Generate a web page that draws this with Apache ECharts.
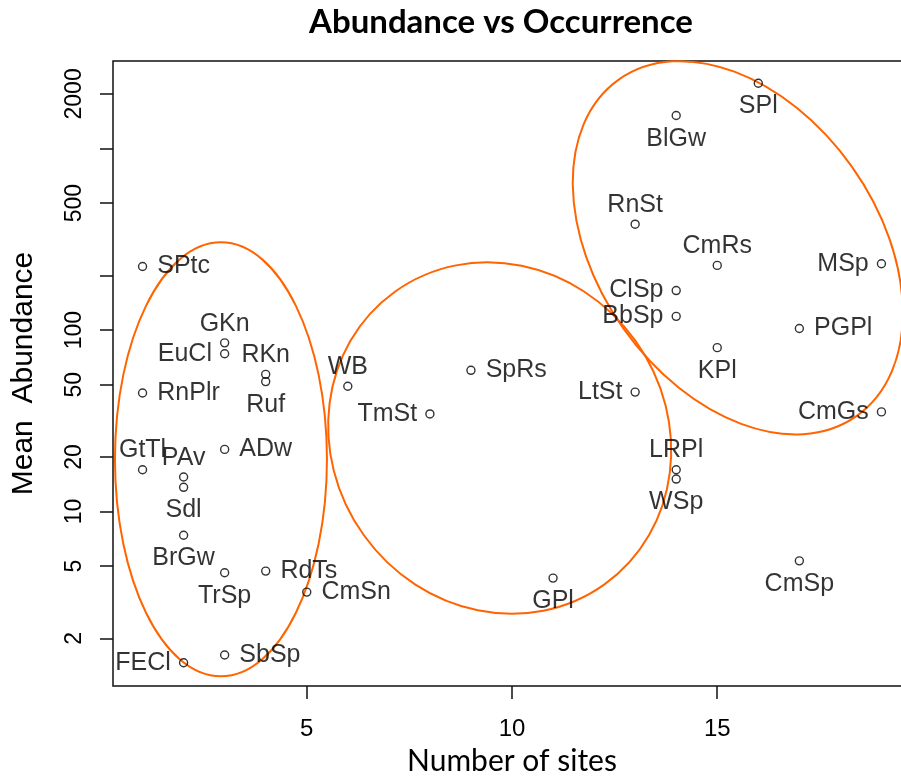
<!DOCTYPE html>
<html>
<head>
<meta charset="utf-8">
<script src="https://cdn.jsdelivr.net/npm/echarts@6/dist/echarts.min.js"></script>
<style>
  html, body { margin: 0; padding: 0; background: #fff; }
  #chart { width: 901px; height: 776px; }
</style>
</head>
<body>
<div id="chart"></div>
<script>
// Species codes, number of sites where each occurs, and mean abundance
const species = [
  'SPtc', 'GKn', 'EuCl', 'RKn', 'Ruf', 'RnPlr', 'ADw', 'GtTl', 'PAv', 'Sdl',
  'BrGw', 'TrSp', 'RdTs', 'CmSn', 'SbSp', 'FECl',
  'WB', 'SpRs', 'TmSt', 'LtSt', 'GPl',
  'ClSp', 'BbSp', 'LRPl', 'WSp', 'CmRs', 'MSp', 'PGPl', 'KPl', 'CmGs',
  'SPl', 'BlGw', 'RnSt', 'CmSp'
];
const sites = [
  1, 3, 3, 4, 4, 1, 3, 1, 2, 2,
  2, 3, 4, 5, 3, 2,
  6, 9, 8, 13, 11,
  14, 14, 14, 14, 15, 19, 17, 15, 19,
  16, 14, 13, 17
];
const meanAbundance = [
  224, 85, 74, 57, 52, 45, 22, 17, 15.5, 13.6,
  7.4, 4.6, 4.7, 3.6, 1.62, 1.47,
  49, 60, 34.5, 45.5, 4.3,
  165, 119, 17, 15.1, 227, 232, 102, 80, 35.4,
  2290, 1520, 383, 5.35
];

// Axis ticks
const xTicks = [5, 10, 15];
const yTicks = [2, 5, 10, 20, 50, 100, 200, 500, 1000, 2000];
const yTickLabels = [2, 5, 10, 20, 50, 100, 500, 2000];

// Which side of its point each species code is written on
const labelSide = {
  SPtc: 'right', GKn: 'top', EuCl: 'left', RKn: 'top', Ruf: 'bottom', RnPlr: 'right',
  ADw: 'right', GtTl: 'top', PAv: 'top', Sdl: 'bottom', BrGw: 'bottom', TrSp: 'bottom',
  RdTs: 'right', CmSn: 'right', SbSp: 'right', FECl: 'left',
  WB: 'top', SpRs: 'right', TmSt: 'left', LtSt: 'left', GPl: 'bottom',
  ClSp: 'left', BbSp: 'left', LRPl: 'top', WSp: 'bottom', CmRs: 'top', MSp: 'left',
  PGPl: 'right', KPl: 'bottom', CmGs: 'left', SPl: 'bottom', BlGw: 'bottom',
  RnSt: 'top', CmSp: 'bottom'
};
const sideGap = { top: 2, bottom: 6, left: 8, right: 10 };

// Group outlines: centre (sites, abundance)
const groupSites = [2.91, 9.70, 15.50];
const groupAbundance = [19.4, 25.4, 284];
// outline size in px and tilt (degrees, clockwise)
const groupOutline = [
  { rx: 106, ry: 217, tilt: 0 },
  { rx: 180, ry: 167, tilt: 54.4 },
  { rx: 206, ry: 140, tilt: 54.7 }
];

const labelFont = '"Liberation Sans", Arial, Helvetica, sans-serif';

const points = species.map((name, i) => ({
  name: name,
  value: [sites[i], meanAbundance[i]],
  label: { position: labelSide[name], distance: sideGap[labelSide[name]] }
}));

const chart = echarts.init(document.getElementById('chart'), null, { renderer: 'canvas' });

chart.setOption({
  animation: false,
  backgroundColor: '#fff',
  graphic: [{
    type: 'text',
    x: 501,
    y: 6,
    style: {
      text: 'Abundance vs Occurrence',
      font: 'bold 33px Lato, "Open Sans", sans-serif',
      fill: '#000',
      align: 'center',
      verticalAlign: 'top'
    }
  }],
  grid: {
    left: 113,
    top: 61,
    width: 798,          // frame continues past the right edge
    height: 625,
    outerBoundsMode: 'none',
    show: true,
    borderColor: '#111',
    borderWidth: 1.5,
    containLabel: false
  },
  xAxis: {
    type: 'value',
    min: 0.28,
    max: 19.72,
    name: 'Number of sites',
    nameLocation: 'middle',
    nameGap: 59,
    nameTextStyle: { fontFamily: 'Lato, "Open Sans", sans-serif', fontSize: 30, color: '#000' },
    axisLine: { show: false },
    splitLine: { show: false },
    axisTick: {
      show: true, length: 13, customValues: xTicks,
      lineStyle: { color: '#111', width: 1.5 }
    },
    axisLabel: {
      customValues: xTicks, margin: 31,
      fontFamily: labelFont, fontSize: 24, color: '#000'
    }
  },
  yAxis: {
    type: 'log',
    logBase: 10,
    min: 1.094,
    max: 3035,
    name: 'Mean  Abundance',
    nameLocation: 'middle',
    nameGap: 74,
    nameRotate: 90,
    nameTextStyle: { fontFamily: labelFont, fontSize: 30, color: '#000' },
    axisLine: { show: false },
    splitLine: { show: false },
    axisTick: {
      show: true, length: 13, customValues: yTicks,
      lineStyle: { color: '#111', width: 1.5 }
    },
    axisLabel: {
      customValues: yTickLabels, rotate: 90, margin: 27,
      fontFamily: labelFont, fontSize: 23, color: '#000',
      formatter: v => String(Math.round(v))
    }
  },
  series: [
    {
      type: 'custom',
      silent: true,
      clip: false,
      data: groupSites.map((s, i) => [s, groupAbundance[i]]),
      renderItem: function (params, api) {
        const c = api.coord([api.value(0), api.value(1)]);
        const o = groupOutline[params.dataIndex];
        return {
          type: 'ellipse',
          x: c[0],
          y: c[1],
          rotation: -o.tilt * Math.PI / 180,
          shape: { cx: 0, cy: 0, rx: o.rx, ry: o.ry },
          style: { fill: 'none', stroke: '#ff6400', lineWidth: 2 }
        };
      },
      z: 1
    },
    {
      type: 'scatter',
      symbol: 'circle',
      symbolSize: 8,
      data: points,
      itemStyle: { color: 'rgba(0,0,0,0)', borderColor: '#000', borderWidth: 1.4 },
      label: {
        show: true,
        formatter: '{b}',
        fontFamily: labelFont,
        fontSize: 25,
        color: '#000'
      },
      labelLayout: { hideOverlap: false },
      emphasis: { disabled: true },
      z: 3
    }
  ]
});
</script>
</body>
</html>
